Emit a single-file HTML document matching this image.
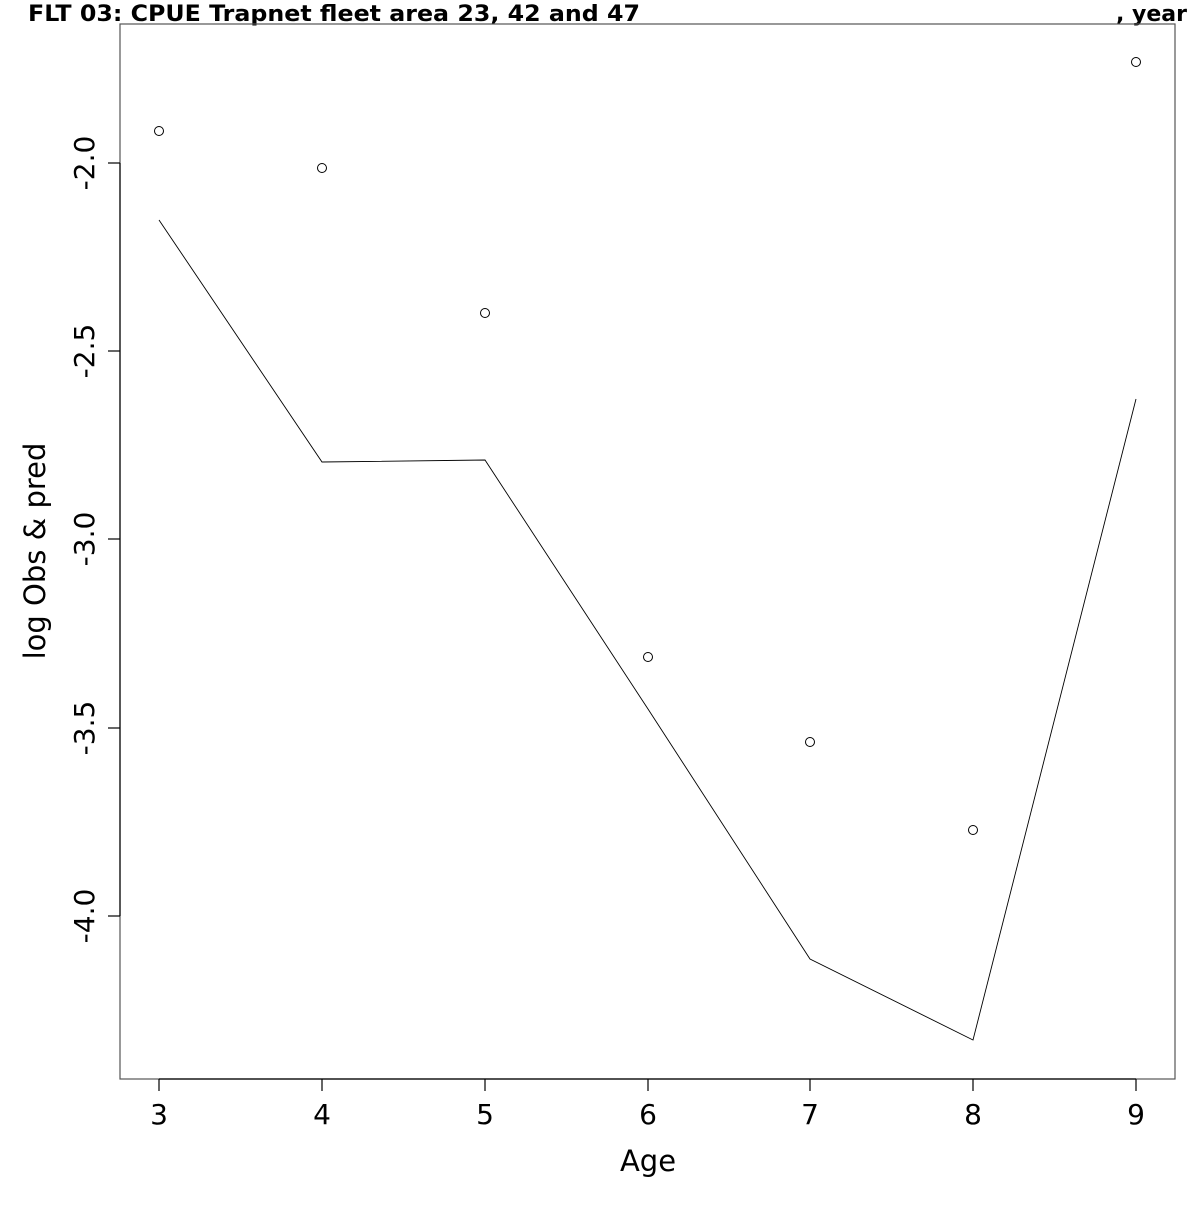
<!DOCTYPE html>
<html><head><meta charset="utf-8"><style>html,body{margin:0;padding:0;background:#fff}</style></head>
<body>
<svg width="1200" height="1200" xmlns="http://www.w3.org/2000/svg" font-family="DejaVu Sans, Liberation Sans, sans-serif">
<rect width="1200" height="1200" fill="#fff"/>
<text x="28" y="21" font-size="22" font-weight="bold" textLength="612" lengthAdjust="spacingAndGlyphs">FLT 03: CPUE Trapnet fleet area 23, 42 and 47</text>
<text x="1116" y="21" font-size="22" font-weight="bold">, year</text>
<rect x="120" y="24" width="1055" height="1055" fill="none" stroke="#555" stroke-width="1.2"/>
<g stroke="#000" stroke-width="1.2">
<line x1="159" y1="1079" x2="1136" y2="1079"/>
<line x1="159" y1="1079" x2="159" y2="1091"/>
<line x1="322" y1="1079" x2="322" y2="1091"/>
<line x1="485" y1="1079" x2="485" y2="1091"/>
<line x1="648" y1="1079" x2="648" y2="1091"/>
<line x1="810" y1="1079" x2="810" y2="1091"/>
<line x1="973" y1="1079" x2="973" y2="1091"/>
<line x1="1136" y1="1079" x2="1136" y2="1091"/>
<line x1="120" y1="163" x2="120" y2="916"/>
<line x1="120" y1="163" x2="108" y2="163"/>
<line x1="120" y1="351" x2="108" y2="351"/>
<line x1="120" y1="539" x2="108" y2="539"/>
<line x1="120" y1="728" x2="108" y2="728"/>
<line x1="120" y1="916" x2="108" y2="916"/>
</g>
<g font-size="28" text-anchor="middle">
<text x="159" y="1124">3</text><text x="322" y="1124">4</text><text x="485" y="1124">5</text>
<text x="648" y="1124">6</text><text x="810" y="1124">7</text><text x="973" y="1124">8</text>
<text x="1136" y="1124">9</text>
<text transform="translate(94,163) rotate(-90)">-2.0</text>
<text transform="translate(94,351) rotate(-90)">-2.5</text>
<text transform="translate(94,539) rotate(-90)">-3.0</text>
<text transform="translate(94,728) rotate(-90)">-3.5</text>
<text transform="translate(94,916) rotate(-90)">-4.0</text>
</g>
<g font-size="29" text-anchor="middle">
<text x="648" y="1171">Age</text>
<text transform="translate(45,551) rotate(-90)">log Obs &amp; pred</text>
</g>
<polyline fill="none" stroke="#000" stroke-width="0.9" points="159,220 322,462 485,460 648,709 810,959 973,1040 1136,399"/>
<g fill="none" stroke="#000" stroke-width="1">
<circle cx="159" cy="131" r="4.5"/><circle cx="322" cy="168" r="4.5"/><circle cx="485" cy="313" r="4.5"/>
<circle cx="648" cy="657" r="4.5"/><circle cx="810" cy="742" r="4.5"/><circle cx="973" cy="830" r="4.5"/>
<circle cx="1136" cy="62" r="4.5"/>
</g>
</svg>
</body></html>
